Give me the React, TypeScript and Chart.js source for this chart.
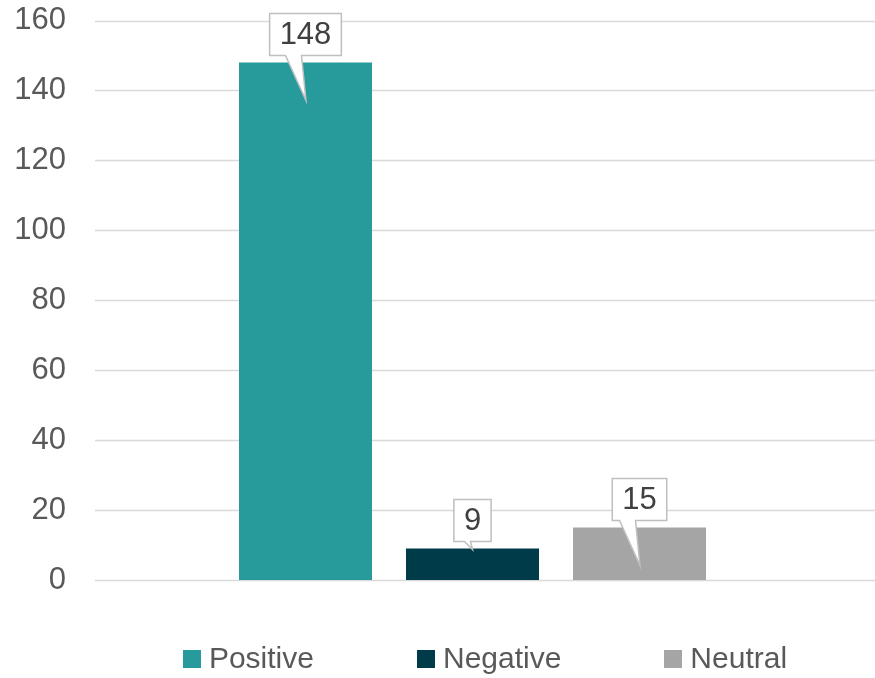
import React, { useEffect, useRef } from "react";
import { Chart, registerables } from "chart.js";

Chart.register(...registerables);

// Sentiment counts
const categories = [""];
const seriesNames = ["Positive", "Negative", "Neutral"];
const positiveValues = [148];
const negativeValues = [9];
const neutralValues = [15];
const seriesColors = ["#279A9B", "#003B49", "#A5A5A5"];
const yTicks = [0, 20, 40, 60, 80, 100, 120, 140, 160];

const TEXT = "#595959";
const GRID = "#D9D9D9";
const LABEL_FONT = "31px 'Liberation Sans', Arial, sans-serif";
const LEGEND_FONT = "30px 'Liberation Sans', Arial, sans-serif";

// Horizontal gridlines drawn across the full width, from the y scale's ticks
const gridPlugin = {
  id: "fullGrid",
  beforeDatasetsDraw(chart: any) {
    const { ctx } = chart;
    const y = chart.scales.y;
    ctx.save();
    ctx.strokeStyle = GRID;
    ctx.lineWidth = 1.5;
    for (const t of yTicks) {
      const py = Math.round(y.getPixelForValue(t)) + 0.5;
      ctx.beginPath();
      ctx.moveTo(chart.chartArea.left, py);
      ctx.lineTo(chart.width, py);
      ctx.stroke();
    }
    ctx.restore();
  },
};

// Callout-style value labels above each bar
const calloutPlugin = {
  id: "callouts",
  afterDatasetsDraw(chart: any) {
    const { ctx } = chart;
    ctx.save();
    ctx.font = LABEL_FONT;
    chart.data.datasets.forEach((ds: any, i: number) => {
      const meta = chart.getDatasetMeta(i);
      meta.data.forEach((bar: any, j: number) => {
        const value = ds.data[j];
        const text = String(value);
        const tw = ctx.measureText(text).width;
        const w = tw + 20;
        const h = 42;
        const cx = bar.x;
        const top = bar.y;
        const barH = bar.base - bar.y;
        const boxBottom = top - 7;
        const boxTop = boxBottom - h;
        const left = cx - w / 2;
        const tipY = barH > 40 ? top + 38 : top + 1;
        const long = tipY - boxBottom > 15;
        const b1 = cx - (long ? 20 : 8);
        const b2 = cx - (long ? 4 : 2);
        const tipX = cx + (long ? 0.5 : 0);

        ctx.beginPath();
        ctx.moveTo(left, boxTop);
        ctx.lineTo(left + w, boxTop);
        ctx.lineTo(left + w, boxBottom);
        ctx.lineTo(b2, boxBottom);
        ctx.lineTo(tipX, tipY);
        ctx.lineTo(b1, boxBottom);
        ctx.lineTo(left, boxBottom);
        ctx.closePath();
        ctx.fillStyle = "#FFFFFF";
        ctx.fill();
        ctx.strokeStyle = "#BFBFBF";
        ctx.lineWidth = 1.5;
        ctx.stroke();

        ctx.fillStyle = "#404040";
        ctx.textAlign = "center";
        ctx.textBaseline = "middle";
        ctx.fillText(text, cx, boxTop + h / 2 + 1);
      });
    });
    ctx.restore();
  },
};

// Legend row under the plot, built from the datasets
const legendPlugin = {
  id: "bottomLegend",
  afterDraw(chart: any) {
    const { ctx } = chart;
    ctx.save();
    ctx.font = LEGEND_FONT;
    const box = 18;
    const gapText = 8;
    const gapItem = 103;
    const items = chart.data.datasets.map((ds: any) => {
      const tw = ctx.measureText(ds.label).width;
      return { label: ds.label, color: ds.backgroundColor, w: box + gapText + tw };
    });
    const total = items.reduce((s: number, it: any) => s + it.w, 0) + gapItem * (items.length - 1);
    const centerX = (chart.chartArea.left + chart.width) / 2;
    const cy = 658.5;
    let x = centerX - total / 2;
    for (const it of items) {
      ctx.fillStyle = it.color;
      ctx.fillRect(Math.round(x), Math.round(cy - box / 2), box, box);
      ctx.fillStyle = TEXT;
      ctx.textAlign = "left";
      ctx.textBaseline = "middle";
      ctx.fillText(it.label, x + box + gapText, cy + 1);
      x += it.w + gapItem;
    }
    ctx.restore();
  },
};

export default function App() {
  const canvasRef = useRef<HTMLCanvasElement | null>(null);

  useEffect(() => {
    document.body.style.margin = "0";
    const canvas = canvasRef.current;
    if (!canvas) return;
    const seriesValues = [positiveValues, negativeValues, neutralValues];
    const chart = new Chart(canvas, {
      type: "bar",
      data: {
        labels: categories,
        datasets: seriesNames.map((name, i) => ({
          label: name,
          data: seriesValues[i],
          backgroundColor: seriesColors[i],
          borderWidth: 0,
          categoryPercentage: 0.6636,
          barPercentage: 0.7964,
        })),
      },
      options: {
        responsive: false,
        animation: false,
        layout: { padding: { top: 20.5, right: 25, bottom: 98, left: 0 } },
        plugins: {
          legend: { display: false },
          tooltip: { enabled: false },
        },
        scales: {
          x: {
            display: false,
          },
          y: {
            min: 0,
            max: 160,
            afterFit(scale: any) {
              scale.width = 95;
              scale.paddingTop = 0;
              scale.paddingBottom = 0;
            },
            afterBuildTicks(scale: any) {
              scale.ticks = yTicks.map((v) => ({ value: v }));
            },
            grid: { display: false, drawTicks: false },
            border: { display: false },
            ticks: {
              padding: 29,
              color: TEXT,
              font: { family: "'Liberation Sans', Arial, sans-serif", size: 31 },
            },
          },
        },
      },
      plugins: [gridPlugin, calloutPlugin, legendPlugin],
    });
    return () => chart.destroy();
  }, []);

  return (
    <div style={{ width: 875, height: 678 }}>
      <canvas ref={canvasRef} width={875} height={678} style={{ display: "block" }} />
    </div>
  );
}
